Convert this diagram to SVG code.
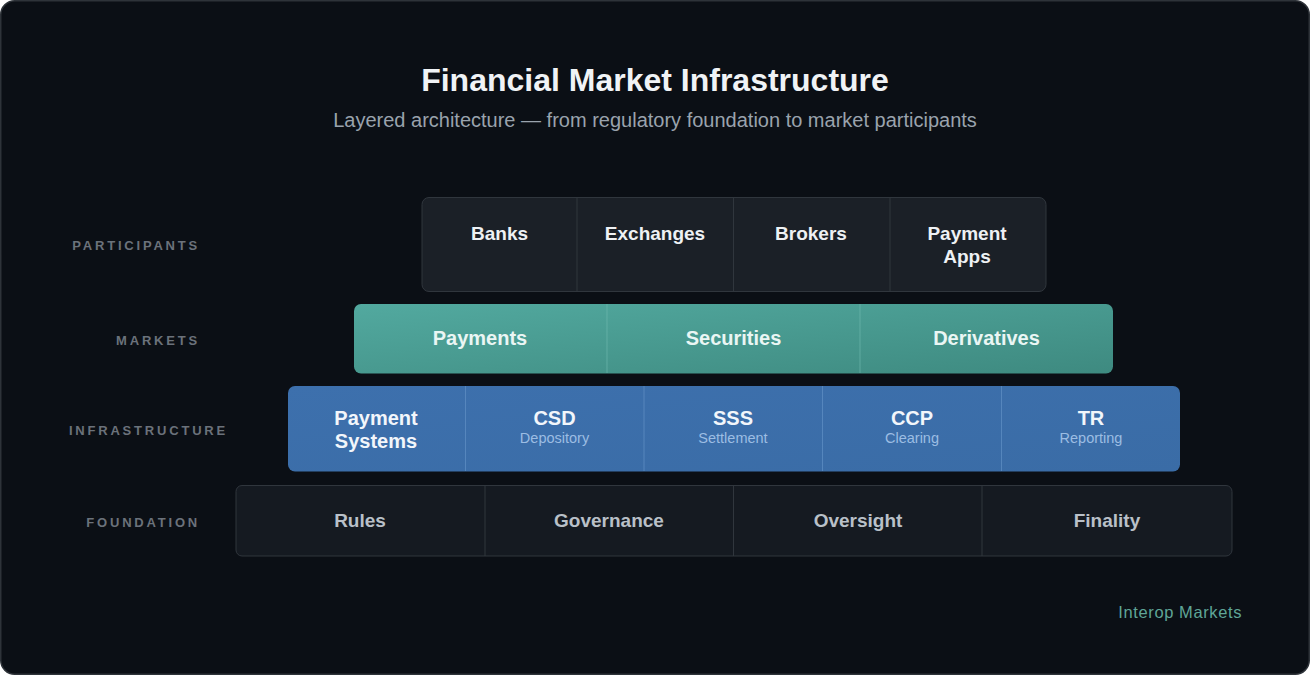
<svg xmlns="http://www.w3.org/2000/svg" width="1310" height="675" viewBox="0 0 1310 675">
<defs>
<linearGradient id="teal" x1="0" y1="0" x2="1" y2="1">
<stop offset="0" stop-color="#52a99f"/>
<stop offset="1" stop-color="#3e8a80"/>
</linearGradient>
<linearGradient id="blue" x1="0" y1="0" x2="1" y2="1">
<stop offset="0" stop-color="#3d70ad"/>
<stop offset="1" stop-color="#3a6ca6"/>
</linearGradient>
<style>
text{font-family:"Liberation Sans",Arial,sans-serif}
.title{font-size:32px;font-weight:bold;fill:#f0f3f6}
.sub{font-size:20px;fill:#9aa3ad}
.lbl{font-size:13px;font-weight:bold;fill:#6b727b;letter-spacing:2.8px}
.pt{font-size:19px;font-weight:bold;fill:#eef1f4}
.mt{font-size:20px;font-weight:bold;fill:#eaf6f4}
.it{font-size:20px;font-weight:bold;fill:#f2f6fb}
.is{font-size:14.5px;fill:#9cbde3}
.ft{font-size:19px;font-weight:bold;fill:#b9c0c8}
.div{stroke-width:1}
</style>
</defs>
<rect x="0.75" y="0.75" width="1308.5" height="673.5" rx="14" fill="#0b0f15" stroke="#2e3339" stroke-width="1.5"/>
<text class="title" x="655" y="91" text-anchor="middle">Financial Market Infrastructure</text>
<text class="sub" x="655" y="127" text-anchor="middle">Layered architecture — from regulatory foundation to market participants</text>

<g id="labels">
<text class="lbl" x="200" y="250" text-anchor="end">PARTICIPANTS</text>
<text class="lbl" x="200" y="345" text-anchor="end">MARKETS</text>
<text class="lbl" x="228" y="435" text-anchor="end">INFRASTRUCTURE</text>
<text class="lbl" x="200" y="527" text-anchor="end">FOUNDATION</text>
</g>

<g id="participants">
<rect x="422" y="197.5" width="624" height="94" rx="7" fill="#1b2027" stroke="#30363d"/>
<g stroke="#30363d" class="div">
<line x1="577" y1="198" x2="577" y2="291"/>
<line x1="733.5" y1="198" x2="733.5" y2="291"/>
<line x1="890" y1="198" x2="890" y2="291"/>
</g>
<text class="pt" x="499.5" y="240" text-anchor="middle">Banks</text>
<text class="pt" x="655" y="240" text-anchor="middle">Exchanges</text>
<text class="pt" x="811" y="240" text-anchor="middle">Brokers</text>
<text class="pt" x="967" y="240" text-anchor="middle">Payment</text>
<text class="pt" x="967" y="263" text-anchor="middle">Apps</text>
</g>

<g id="markets">
<rect x="354" y="304" width="759" height="69.5" rx="7" fill="url(#teal)"/>
<g stroke="#72bcb2" stroke-opacity="0.6" class="div">
<line x1="607" y1="304" x2="607" y2="373"/>
<line x1="860" y1="304" x2="860" y2="373"/>
</g>
<text class="mt" x="480" y="345" text-anchor="middle">Payments</text>
<text class="mt" x="733.5" y="345" text-anchor="middle">Securities</text>
<text class="mt" x="986.5" y="345" text-anchor="middle">Derivatives</text>
</g>

<g id="infrastructure">
<rect x="288" y="386" width="892" height="85.5" rx="7" fill="url(#blue)"/>
<g stroke="#5d8cc2" stroke-opacity="0.8" class="div">
<line x1="465.5" y1="386" x2="465.5" y2="471"/>
<line x1="644" y1="386" x2="644" y2="471"/>
<line x1="822.5" y1="386" x2="822.5" y2="471"/>
<line x1="1001.5" y1="386" x2="1001.5" y2="471"/>
</g>
<text class="it" x="376" y="425" text-anchor="middle">Payment</text>
<text class="it" x="376" y="448" text-anchor="middle">Systems</text>
<text class="it" x="554.5" y="425" text-anchor="middle">CSD</text>
<text class="is" x="554.5" y="443" text-anchor="middle">Depository</text>
<text class="it" x="733" y="425" text-anchor="middle">SSS</text>
<text class="is" x="733" y="443" text-anchor="middle">Settlement</text>
<text class="it" x="912" y="425" text-anchor="middle">CCP</text>
<text class="is" x="912" y="443" text-anchor="middle">Clearing</text>
<text class="it" x="1091" y="425" text-anchor="middle">TR</text>
<text class="is" x="1091" y="443" text-anchor="middle">Reporting</text>
</g>

<g id="foundation">
<rect x="236" y="485.5" width="996" height="70.5" rx="6" fill="#151a21" stroke="#30363d"/>
<g stroke="#30363d" class="div">
<line x1="485" y1="486" x2="485" y2="556"/>
<line x1="733.5" y1="486" x2="733.5" y2="556"/>
<line x1="982" y1="486" x2="982" y2="556"/>
</g>
<text class="ft" x="360" y="527" text-anchor="middle">Rules</text>
<text class="ft" x="609" y="527" text-anchor="middle">Governance</text>
<text class="ft" x="858" y="527" text-anchor="middle">Oversight</text>
<text class="ft" x="1107" y="527" text-anchor="middle">Finality</text>
</g>

<g id="connectors"></g>

<text x="1242" y="618" text-anchor="end" style="font-size:16.5px;fill:#5fa597;letter-spacing:0.6px">Interop Markets</text>
</svg>
